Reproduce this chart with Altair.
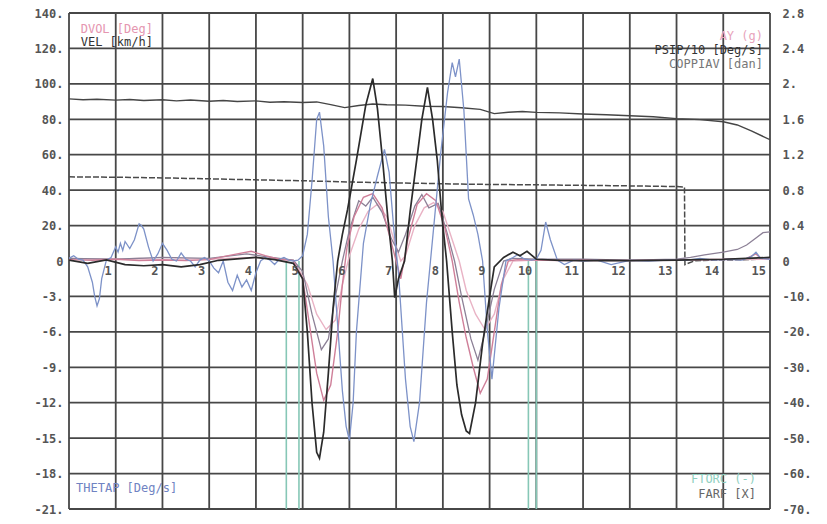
import altair as alt
import pandas as pd

W, H = 701, 496
MONO = "DejaVu Sans Mono"

# ---- axes / grid values ----
X_GRID = list(range(0, 16))
X_LABELS = list(range(1, 16))
LEFT_TICKS = [140, 120, 100, 80, 60, 40, 20, 0, -3, -6, -9, -12, -15, -18, -21]
RIGHT_TICKS = [2.8, 2.4, 2, 1.6, 1.2, 0.8, 0.4, 0, -10, -20, -30, -40, -50, -60, -70]

# ---- series (time in s, values in left-axis units unless noted) ----
T_VEL = [0, 0.3, 0.6, 1.0, 1.3, 1.6, 2.0, 2.3, 2.6, 3.0, 3.3, 3.6, 4.0, 4.3, 4.6, 5.0, 5.3, 5.6, 5.9,
         6.2, 6.5, 6.8, 7.2, 7.6, 8.0, 8.4, 8.8, 9.1, 9.4, 9.7, 10.0, 10.5, 11.0, 11.5, 12.0, 12.5,
         13.0, 13.5, 14.0, 14.3, 14.6, 15.0]
V_VEL = [91.5, 91.0, 91.3, 90.8, 91.2, 90.6, 91.0, 90.4, 90.9, 90.2, 90.6, 90.0, 90.4, 89.6, 89.9,
         89.5, 89.8, 88.3, 86.6, 87.8, 88.6, 88.2, 88.0, 87.4, 87.2, 86.5, 85.6, 83.2, 84.0, 84.4,
         83.9, 83.6, 83.0, 82.6, 82.0, 81.4, 80.4, 79.8, 78.6, 76.8, 73.4, 68.5]

T_FARF = [0, 1, 2, 3, 4, 5, 6, 7, 8, 9, 10, 11, 12, 13, 13.17, 13.18, 13.4, 13.8, 14.2, 14.6, 15]
V_FARF = [47.5, 47.3, 46.9, 46.4, 45.8, 45.3, 44.6, 44.1, 43.6, 43.2, 43.0, 42.7, 42.4, 42.0, 41.8,
          -0.3, 0.2, 0.5, 0.6, 0.9, 1.0]

T_PSIP = [0, 0.4, 0.8, 1.2, 1.6, 2.0, 2.4, 2.8, 3.2, 3.6, 4.0, 4.4, 4.8, 5.0, 5.1, 5.2, 5.3, 5.36,
          5.45, 5.55, 5.65, 5.75, 5.85, 5.96, 6.15, 6.35, 6.5, 6.6, 6.71, 6.82, 6.92, 6.97, 7.05,
          7.18, 7.3, 7.44, 7.55, 7.67, 7.78, 7.88, 7.98, 8.08, 8.2, 8.3, 8.4, 8.5, 8.57, 8.7, 8.85,
          9.0, 9.1, 9.3, 9.5, 9.65, 9.8, 10.0, 10.5, 11, 11.5, 12, 12.5, 13, 13.5, 14, 14.5, 15]
V_PSIP = [0.5, -0.2, 0.6, -0.3, -0.4, -0.3, -0.5, -0.3, 0.4, 1.2, 2.0, 0.8, -0.2, -1.5, -6, -12,
          -16.2, -16.7, -14.5, -9.5, -4, 0, 15, 29, 57, 88, 103, 86, 57, 25, 0, -3.1, -1.5, 0, 28,
          57, 80, 98, 80, 57, 25, 0, -6, -10.5, -13, -14.4, -14.6, -12, -7, -3, -0.5, 2, 5, 3,
          5.5, 1, 0.3, 0.2, 0.4, 0.2, 0.3, 0.5, 0.8, 1.0, 1.5, 2.0]

T_THETAP = [0.0, 0.1, 0.2, 0.3, 0.4, 0.5, 0.55, 0.6, 0.65, 0.7, 0.8, 0.9, 1.0, 1.05, 1.1, 1.15, 1.2,
            1.3, 1.4, 1.5, 1.55, 1.6, 1.7, 1.8, 1.9, 2.0, 2.1, 2.2, 2.3, 2.4, 2.5, 2.6, 2.7, 2.8,
            2.9, 3.0, 3.1, 3.2, 3.3, 3.4, 3.5, 3.6, 3.7, 3.8, 3.9, 4.0, 4.1, 4.2, 4.3, 4.4, 4.5,
            4.6, 4.7, 4.8, 4.9, 5.0, 5.1, 5.2, 5.3, 5.36, 5.45, 5.55, 5.65, 5.75, 5.85, 5.93, 6.0,
            6.08, 6.15, 6.3, 6.45, 6.6, 6.75, 6.85, 6.95, 7.05, 7.2, 7.3, 7.38, 7.5, 7.65, 7.8,
            7.95, 8.1, 8.2, 8.27, 8.35, 8.45, 8.55, 8.65, 8.75, 8.85, 8.95, 9.05, 9.2, 9.35, 9.5,
            9.6, 9.75, 9.9, 10.0, 10.1, 10.2, 10.3, 10.45, 10.6, 10.8, 11.0, 11.3, 11.6, 12.0,
            12.4, 12.8, 13.2, 13.5, 13.8, 14.1, 14.4, 14.6, 14.7, 14.8, 15.0]
V_THETAP = [1.5, 3, 1, 0.5, -0.5, -1.8, -3, -3.8, -3.2, -1.5, 0.5, 2, 8, 5, 10, 6, 11, 7, 12, 21,
            20, 18, 8, 0, 4, 10, 6, 1, 0, 4.5, 1, 0, -0.5, 0.5, 2, 0, -0.6, -1, 0, -1.8, -2.5,
            -1.2, -2.2, -1.6, -2.5, -1, 0, 2, 0.5, -0.3, 1, 2, 0.5, 0, 0.5, 3, 15, 45, 80, 84,
            65, 25, 0, -5.5, -11, -14, -15.2, -12, -6, 10, 32, 48, 63, 50, 18, -1, -10, -14,
            -15.3, -12, -3.5, 18, 60, 95, 112, 104, 114, 85, 35, 26, 15, 0, -5.8, -10, -4, 0, 2,
            3.5, 1, 0.5, 1, 6, 22, 12, 0.5, -0.3, 0.5, 0, 0.5, -0.3, 0.4, 0, 0.5, 0.3, 1.5, 0.5,
            1, 0.5, 2.5, 5, 1.5, 1]

T_DVOL = [0, 0.5, 1.0, 1.5, 2.0, 2.5, 3.0, 3.3, 3.6, 3.9, 4.2, 4.5, 4.8, 5.0, 5.15, 5.3, 5.45, 5.6,
          5.75, 5.85, 5.95, 6.1, 6.3, 6.5, 6.7, 6.85, 7.0, 7.1, 7.25, 7.45, 7.65, 7.85, 8.05, 8.2,
          8.35, 8.5, 8.65, 8.8, 8.95, 9.1, 9.25, 9.4, 9.6, 10.0, 10.5, 11.0, 12.0, 13.0, 13.5,
          14.0, 14.5, 14.7, 14.8, 15.0]
V_DVOL = [0.8, 0.4, 1.0, 0.3, 0.6, 0.2, 0.8, 2.5, 4.0, 5.5, 3.0, 1.0, 0.2, -1.5, -5.5, -9.5, -11.8,
          -10.5, -6.0, -2.0, 8, 25, 36, 38, 30, 15, 0, -1.5, 12, 32, 38, 34, 18, 0, -3.5, -6.5,
          -9.0, -11.2, -10.0, -6.0, -2.0, 0, 0.8, 0.5, 0.3, 0.4, 0.2, 0.4, 0.8, 1.0, 1.5, 4.0,
          1.5, 1.5]

T_AY = [0, 0.5, 1.0, 1.5, 2.0, 2.5, 3.0, 3.5, 4.0, 4.4, 4.8, 5.1, 5.3, 5.5, 5.7, 5.85, 6.0, 6.2,
        6.4, 6.6, 6.8, 7.0, 7.1, 7.2, 7.4, 7.6, 7.8, 8.0, 8.2, 8.35, 8.5, 8.7, 8.9, 9.1, 9.3, 9.5,
        10.0, 11.0, 12.0, 13.0, 14.0, 15.0]
V_AY = [1.5, 1.2, 1.0, 1.4, 0.8, 1.2, 1.0, 1.6, 2.0, 1.2, 0.5, -2.0, -4.5, -5.8, -5.0, -2.0, 3, 18,
        28, 32, 25, 8, 0, 3, 20, 30, 33, 28, 12, 0, -2.5, -4.5, -5.8, -4.5, -1.5, 0, 0.5, 0.3,
        0.4, 0.6, 0.8, 1.0]

# right-axis units
T_COPP = [0, 1, 2, 3, 3.8, 4.2, 4.8, 5.0, 5.2, 5.4, 5.55, 5.7, 5.85, 6.0, 6.2, 6.35, 6.5, 6.7, 6.9,
          7.05, 7.2, 7.4, 7.55, 7.7, 7.9, 8.1, 8.25, 8.4, 8.6, 8.75, 8.9, 9.1, 9.3, 9.5, 10, 11,
          12, 13, 13.3, 13.6, 14, 14.3, 14.5, 14.7, 14.85, 15]
V_COPP = [0.03, 0.02, 0.04, 0.03, 0.08, 0.05, 0.01, -3, -15, -25, -22, -10, 0, 0.35, 0.68, 0.62,
          0.72, 0.55, 0.25, 0.1, 0.3, 0.62, 0.75, 0.6, 0.65, 0.3, 0, -10, -22, -28, -20, -8, 0,
          0.03, 0.02, 0.02, 0.01, 0.02, 0.04, 0.07, 0.1, 0.13, 0.18, 0.26, 0.32, 0.33]

T_FTORC = [4.65, 4.651, 4.92, 4.921, 9.83, 9.831, 10.0, 10.001]
V_FTORC = [0, -40, -40, 0, 0, -40, -40, 0]
S_FTORC = [1, 1, 1, 1, 2, 2, 2, 2]

# ---- legend labels ----
LEG_TEXT = ["DVOL [Deg]", "VEL [km/h]", "THETAP [Deg/s]"]
LEG_T = [0.25, 0.25, 0.15]
LEG_V = [131, 123.5, -19.2]
LEG_COL = ["#e596b0", "#333333", "#6f83c2"]

LEG_R_TEXT = ["AY (g)", "PSIP/10 [Deg/s]", "COPPIAV [dan]", "FTORC (-)", "FARF [X]"]
LEG_R_T = [14.85, 14.85, 14.85, 14.7, 14.7]
LEG_R_V = [127, 119, 111, -18.5, -19.7]
LEG_R_COL = ["#e8a3bb", "#333333", "#777777", "#8fd0c0", "#666666"]

# ---- scales ----
xs = alt.Scale(domain=[0, 15], nice=False, zero=False)
ys_left = alt.Scale(domain=[-21, 0, 140], range=[H, H / 2, 0], nice=False, zero=False)
ys_right = alt.Scale(domain=[-70, 0, 2.8], range=[H, H / 2, 0], nice=False, zero=False)

LBL = "datum.value == 0 ? '0' : (datum.value % 1 == 0 ? datum.value + '.' : '' + datum.value)"

axis_left = alt.Axis(values=LEFT_TICKS, labelExpr=LBL, grid=False, ticks=False, domain=False,
                     title=None, labelFont=MONO, labelFontSize=12, labelFontWeight="bold",
                     labelColor="#555555", labelPadding=6, orient="left", labelOverlap=False)
axis_right = alt.Axis(values=RIGHT_TICKS, labelExpr=LBL, grid=False, ticks=False, domain=False,
                      title=None, labelFont=MONO, labelFontSize=12, labelFontWeight="bold",
                      labelColor="#555555", labelPadding=12, orient="right", labelOverlap=False)


def line(t, v, color, width, scale=ys_left, axis=None, dash=None):
    df = pd.DataFrame({"t": t, "v": v})
    kw = dict(color=color, strokeWidth=width, clip=True)
    if dash:
        kw["strokeDash"] = dash
    return alt.Chart(df).mark_line(**kw).encode(
        x=alt.X("t:Q", scale=xs, axis=None),
        y=alt.Y("v:Q", scale=scale, axis=axis),
    )


grid_v = alt.Chart(pd.DataFrame({"t": X_GRID})).mark_rule(color="#474747", strokeWidth=1.8).encode(
    x=alt.X("t:Q", scale=xs, axis=None))
grid_h = alt.Chart(pd.DataFrame({"v": [v for v in LEFT_TICKS if v != 0]})).mark_rule(
    color="#474747", strokeWidth=1.8).encode(y=alt.Y("v:Q", scale=ys_left, axis=None))

ftorc = alt.Chart(pd.DataFrame({"t": T_FTORC, "v": V_FTORC, "s": S_FTORC})).mark_line(
    color="#86c7b6", strokeWidth=1.6, clip=True).encode(
    x=alt.X("t:Q", scale=xs, axis=None),
    y=alt.Y("v:Q", scale=ys_left, axis=None),
    detail="s:N")

xlab = alt.Chart(pd.DataFrame({"t": X_LABELS, "v": [0] * len(X_LABELS)})).mark_text(
    align="right", baseline="middle", dx=-4, dy=10, font=MONO, fontSize=12, fontWeight="bold",
    color="#555555").encode(
    x=alt.X("t:Q", scale=xs, axis=None),
    y=alt.Y("v:Q", scale=ys_left, axis=None),
    text="t:N")

leg_l = alt.Chart(pd.DataFrame({"t": LEG_T, "v": LEG_V, "txt": LEG_TEXT, "c": LEG_COL})).mark_text(
    align="left", baseline="middle", font=MONO, fontSize=12).encode(
    x=alt.X("t:Q", scale=xs, axis=None),
    y=alt.Y("v:Q", scale=ys_left, axis=None),
    text="txt:N", color=alt.Color("c:N", scale=None))

leg_r = alt.Chart(pd.DataFrame({"t": LEG_R_T, "v": LEG_R_V, "txt": LEG_R_TEXT, "c": LEG_R_COL})).mark_text(
    align="right", baseline="middle", font=MONO, fontSize=12).encode(
    x=alt.X("t:Q", scale=xs, axis=None),
    y=alt.Y("v:Q", scale=ys_left, axis=None),
    text="txt:N", color=alt.Color("c:N", scale=None))

layers = [
    grid_v,
    grid_h,
    ftorc,
    line(T_FARF, V_FARF, "#4a4a4a", 1.5, dash=[6, 2]),
    line(T_VEL, V_VEL, "#454545", 1.4),
    line(T_AY, V_AY, "#e9b3c5", 1.4),
    line(T_COPP, V_COPP, "#8c8096", 1.3, scale=ys_right, axis=axis_right),
    line(T_DVOL, V_DVOL, "#cf7f99", 1.4),
    line(T_THETAP, V_THETAP, "#7d92c8", 1.3),
    line(T_PSIP, V_PSIP, "#2b2b2b", 1.7, axis=axis_left),
    xlab,
    leg_l,
    leg_r,
]

chart = alt.layer(*layers).resolve_scale(y="independent").properties(
    width=W, height=H,
    autosize=alt.AutoSizeParams(type="none"),
    padding={"left": 61, "top": 5, "right": 49, "bottom": 7},
    background="white",
).configure_view(stroke=None)

chart.save("out.html", embed_options={"renderer": "svg", "actions": False})
